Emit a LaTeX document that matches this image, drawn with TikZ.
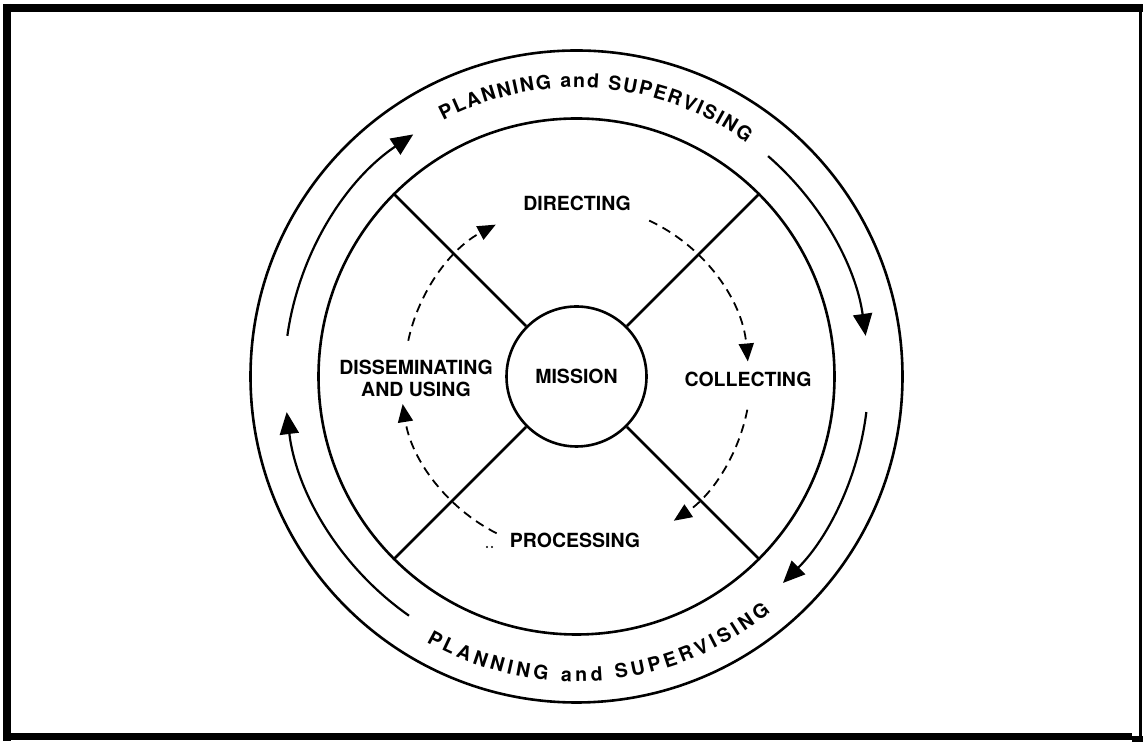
\documentclass[tikz,border=0pt]{standalone}
\usepackage{fontspec}
\setmainfont{TeX Gyre Heros}
\usetikzlibrary{arrows.meta,decorations.text,calc}
\begin{document}
\begin{tikzpicture}[x=1pt,y=1pt,
  ring/.style={line width=2.6pt},
  cyc/.style={line width=2.2pt,-{Triangle[length=22pt,width=19pt]}},
  dcyc/.style={line width=1.8pt,dash pattern=on 9pt off 6pt,-{Triangle[length=18pt,width=15pt]}},
  lab/.style={font=\bfseries\fontsize{19.5}{22}\selectfont,align=center,inner sep=0pt},
  ringtext/.style={decorate,decoration={text along path,text align={fit to path},
     text={|\bfseries\fontsize{19.5}{19.5}\selectfont|PLANNING and SUPERVISING}}},
]
\useasboundingbox (0,0) rectangle (1143,743);
% frame
\draw[line width=8pt] (3,735) -- (1143,735);
\draw[line width=8pt] (7,739) -- (7,2);
\draw[line width=7pt] (3,6.5) -- (1132,6.5);
\draw[line width=6pt] (1132,4) -- (1143,4);
\draw[line width=3pt] (1140.5,739) -- (1140.5,6);
\coordinate (C) at (576.5,366.5);
% circles
\node[circle,draw,ring,minimum size=652pt,inner sep=0pt] (outer) at (C) {};
\node[circle,draw,ring,minimum size=516pt,inner sep=0pt] (middle) at (C) {};
\node[circle,draw,ring,minimum size=140pt,lab] (mission) at (C) {MISSION};
% quadrant lines
\draw[ring] (mission.45) -- (middle.45);
\draw[ring] (mission.135) -- (middle.135);
\draw[ring] (mission.225) -- (middle.225);
\draw[ring] (mission.315) -- (middle.315);
% outer cycle arrows
\draw[cyc] ($(C)+(172:292)$) arc[start angle=172,end angle=124,radius=292];
\draw[cyc] ($(C)+(49:292)$) arc[start angle=49,end angle=8,radius=292];
\draw[cyc] ($(C)+(-7:292)$) arc[start angle=-7,end angle=-45,radius=292];
\draw[cyc] ($(C)+(235:292)$) arc[start angle=235,end angle=187,radius=292];
% ring texts
\path[ringtext] ($(C)+(117.5:289)$) arc[start angle=117.5,end angle=54,radius=289];
\path[ringtext] ($(C)+(240.5:305)$) arc[start angle=240.5,end angle=309.5,radius=305];
% inner labels
\node[lab] (directing) at (577,540) {DIRECTING};
\node[lab] (collecting) at (748,364) {COLLECTING};
\node[lab] (processing) at (575,203) {PROCESSING};
\node[lab] (dissem) at (416,365) {DISSEMINATING\\AND USING};
% dashed cycle arrows
\draw[dcyc] ($(C)+(168:172)$) arc[start angle=168,end angle=118,radius=172];
\draw[dcyc] ($(C)+(65:172)$) arc[start angle=65,end angle=5,radius=172];
\draw[dcyc] ($(C)+(-11:174)$) arc[start angle=-11,end angle=-56,radius=174];
\draw[dcyc] ($(C)+(243:176)$) arc[start angle=243,end angle=189,radius=176];
% stray dots
\fill (487,196) circle (1.1);
\fill (492,196) circle (1.1);
\end{tikzpicture}
\end{document}
